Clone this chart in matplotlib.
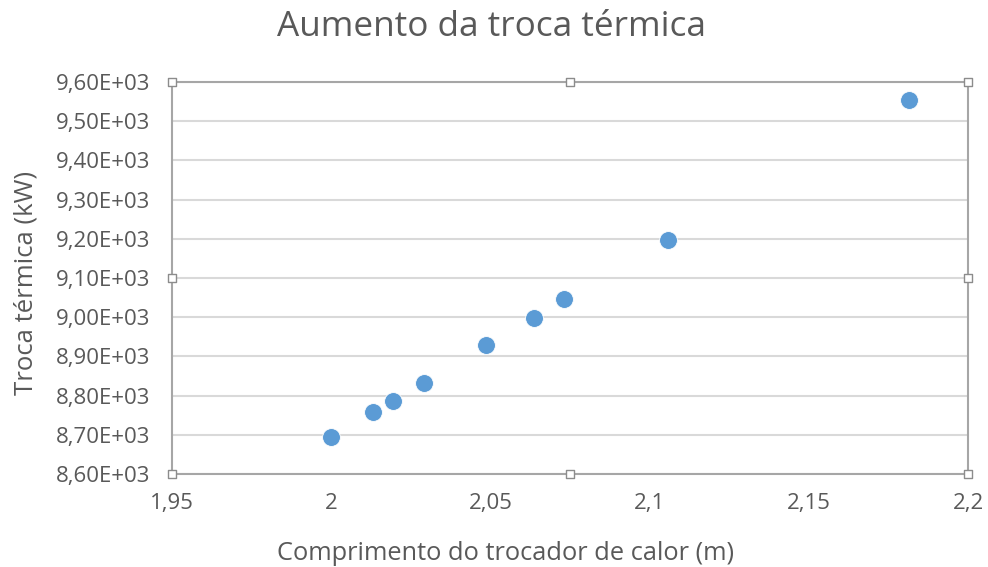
import numpy as np
from matplotlib import pyplot as plt
from matplotlib.ticker import FuncFormatter, MultipleLocator

comprimento = [2.000, 2.0131, 2.0194, 2.0290, 2.0486, 2.0637, 2.0731, 2.1058, 2.1815]
troca = [8694, 8757, 8785, 8832, 8928, 8998, 9047, 9198, 9553]

plt.rcParams['font.family'] = ['Open Sans', 'DejaVu Sans']

fig = plt.figure(figsize=(9.88, 5.67), dpi=100)
ax = fig.add_axes([0.1741, 0.164, 0.8057, 0.6914])

ax.scatter(comprimento, troca, s=165, color='#5B9BD5', zorder=3, edgecolor='white', linewidths=0.6)

ax.set_xlim(1.95, 2.2)
ax.set_ylim(8600, 9600)
ax.xaxis.set_major_locator(MultipleLocator(0.05))
ax.yaxis.set_major_locator(MultipleLocator(100))
ax.xaxis.set_major_formatter(FuncFormatter(lambda v, p: f"{round(v, 2):g}".replace('.', ',')))
ax.yaxis.set_major_formatter(FuncFormatter(lambda v, p: f"{v:.2E}".replace('.', ',')))

ax.grid(True, axis='y', color='#d9d9d9', linewidth=1.5, zorder=0)
for s in ax.spines.values():
    s.set_color('#a6a6a6')
    s.set_linewidth(1.5)
ax.tick_params(length=0, labelsize=16, labelcolor='#595959')
ax.tick_params(axis='y', pad=16)
ax.tick_params(axis='x', pad=14)

fig.text(0.497, 0.952, "Aumento da troca térmica", fontsize=25.3, color='#595959',
         ha='center', va='center')
fig.text(0.512, 0.024, "Comprimento do trocador de calor (m)", fontsize=18.3, color='#595959',
         ha='center', va='center')
fig.text(0.026, 0.501, "Troca térmica (kW)", fontsize=18.5, color='#595959',
         ha='center', va='center', rotation=90)

# selection handles
hx = [0, 0.5, 1, 0, 1, 0, 0.5, 1]
hy = [0, 0, 0, 0.5, 0.5, 1, 1, 1]
ax.scatter(hx, hy, marker='s', s=36, facecolor='white', edgecolor='#8c8c8c',
           linewidths=1, transform=ax.transAxes, clip_on=False, zorder=5)

fig.savefig("out.png", dpi=100)
